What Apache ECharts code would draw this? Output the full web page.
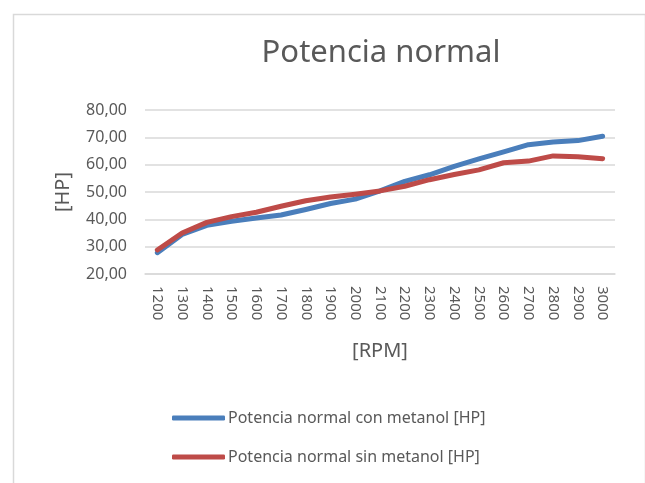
<!DOCTYPE html>
<html>
<head>
<meta charset="utf-8">
<script src="https://cdn.jsdelivr.net/npm/echarts@6/dist/echarts.min.js"></script>
<style>html,body{margin:0;padding:0;background:#fff;}#c{width:645px;height:483px;}</style>
</head>
<body>
<div id="c"></div>
<script>
var categories = ['1200','1300','1400','1500','1600','1700','1800','1900','2000','2100','2200','2300','2400','2500','2600','2700','2800','2900','3000'];
var conMetanol = [27.8, 34.5, 37.8, 39.3, 40.5, 41.6, 43.6, 45.8, 47.4, 50.4, 53.9, 56.3, 59.4, 62.1, 64.7, 67.3, 68.3, 68.8, 70.4];
var sinMetanol = [28.8, 35.0, 38.9, 41.0, 42.6, 44.8, 46.8, 48.2, 49.2, 50.4, 52.1, 54.5, 56.4, 58.1, 60.7, 61.3, 63.2, 62.9, 62.2];
var seriesNames = ['Potencia normal con metanol [HP]', 'Potencia normal sin metanol [HP]'];
var yTicks = {min: 20, max: 80, interval: 10};

var font = 'Noto Sans';
var txt = '#595959';
var chart = echarts.init(document.getElementById('c'), null, {renderer: 'canvas'});
chart.setOption({
  animation: false,
  backgroundColor: '#fff',
  graphic: [{
    type: 'rect', left: 11, top: 12,
    shape: {width: 632, height: 500},
    style: {fill: 'none', stroke: '#d9d9d9', lineWidth: 1.5},
    silent: true
  }],
  title: {
    text: 'Potencia normal', left: 376, top: 33, textAlign: 'center',
    textStyle: {fontFamily: font, fontSize: 31, fontWeight: 'normal', color: txt}
  },
  legend: {
    orient: 'vertical', left: 172, top: 410, itemGap: 23, padding: 0,
    itemWidth: 53, itemHeight: 5, icon: 'roundRect',
    textStyle: {fontFamily: font, fontSize: 16, color: txt, padding: [0,0,0,-2]},
    data: seriesNames
  },
  grid: {left: 145, right: 30, top: 110, bottom: 209},
  xAxis: {
    type: 'category', data: categories, boundaryGap: true,
    name: '[RPM]', nameLocation: 'middle', nameGap: 67,
    nameTextStyle: {fontFamily: font, fontSize: 20, color: txt},
    axisLine: {show: true, lineStyle: {color: '#d9d9d9', width: 1.5}},
    axisTick: {show: false},
    axisLabel: {rotate: -90, margin: 12, fontFamily: font, fontSize: 15, color: txt, interval: 0}
  },
  yAxis: {
    type: 'value', min: yTicks.min, max: yTicks.max, interval: yTicks.interval,
    name: '[HP]', nameLocation: 'middle', nameGap: 72,
    nameTextStyle: {fontFamily: font, fontSize: 20, color: txt},
    axisLine: {show: false}, axisTick: {show: false},
    splitLine: {lineStyle: {color: '#d9d9d9', width: 1.5}},
    axisLabel: {margin: 18, fontFamily: font, fontSize: 16, color: txt,
      formatter: function (v) { return v.toFixed(2).replace('.', ','); }}
  },
  series: [
    {name: seriesNames[0], type: 'line', data: conMetanol, symbol: 'none',
     lineStyle: {width: 5, color: '#4a7ebb', cap: 'round', join: 'round'}, itemStyle: {color: '#4a7ebb'}},
    {name: seriesNames[1], type: 'line', data: sinMetanol, symbol: 'none',
     lineStyle: {width: 5, color: '#be4b48', cap: 'round', join: 'round'}, itemStyle: {color: '#be4b48'}}
  ]
});
</script>
</body>
</html>
